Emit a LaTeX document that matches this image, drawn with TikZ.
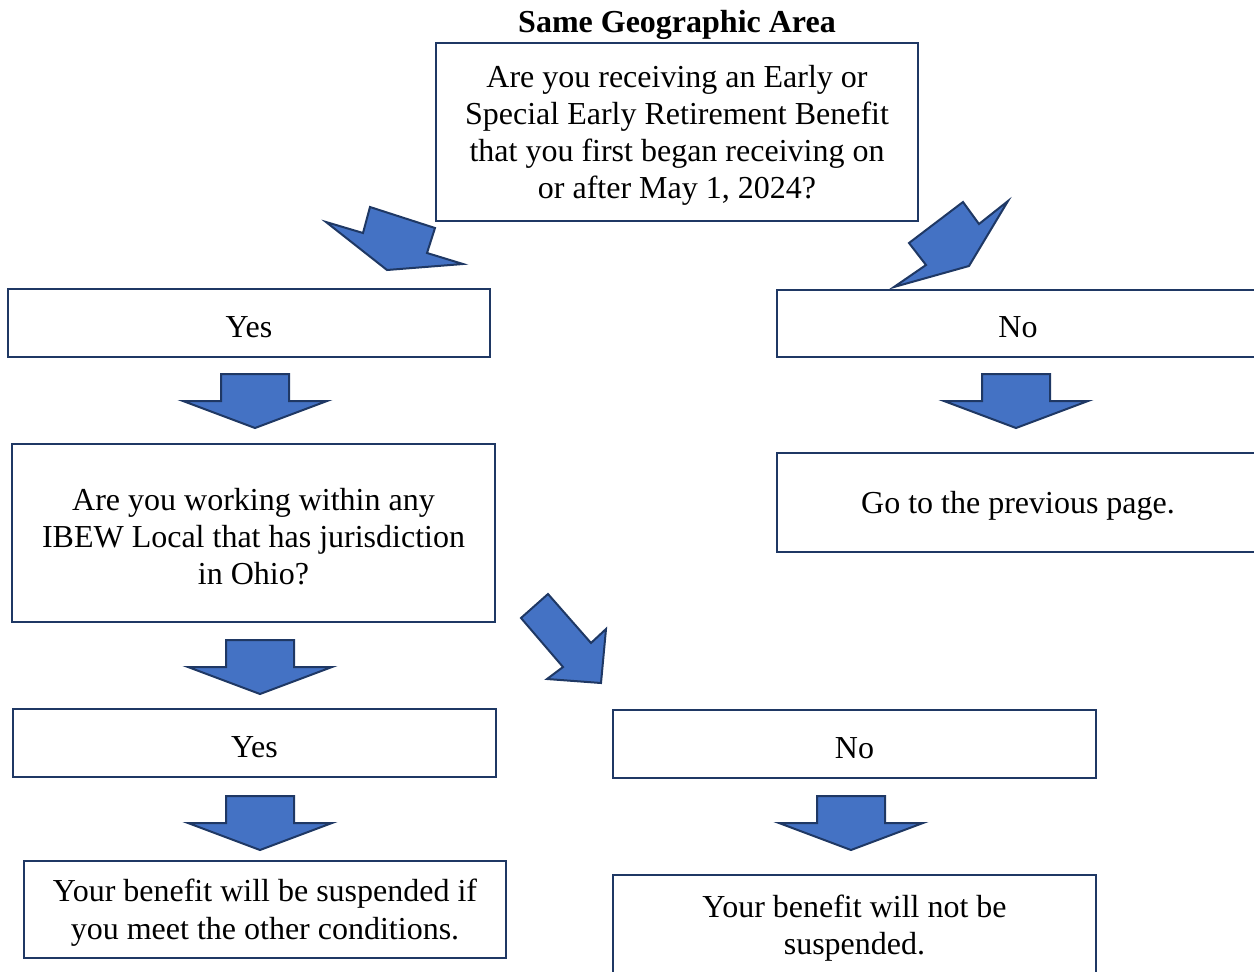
\documentclass[tikz,border=0pt]{standalone}
\usepackage{fontspec}
\setmainfont{Liberation Serif}
\definecolor{arrowblue}{HTML}{4472C4}
\definecolor{navy}{HTML}{1F3864}
\newcommand{\topstrut}{\rule{0pt}{29pt}}
\begin{document}
\begin{tikzpicture}[x=1pt,y=-1pt,
  box/.style={draw=navy, line width=2pt, fill=white, align=center,
    font=\fontsize{32}{37}\selectfont, inner sep=0pt},
  blk/.style={fill=arrowblue, draw=navy, line width=2pt, line join=miter},
  downarrow/.pic={\draw[blk] (-34,0) -- (34,0) -- (34,27) -- (72,27) -- (0,54) -- (-72,27) -- (-34,27) -- cycle;}
]
\useasboundingbox (0,0) rectangle (1254,972);

\node[font=\fontsize{32}{37}\selectfont\bfseries] (title) at (677,25) {Same Geographic Area};

\node[box, minimum width=482pt, minimum height=178pt] (q1) at (677,132)
  {\topstrut Are you receiving an Early or\\Special Early Retirement Benefit\\that you first began receiving on\\or after May 1, 2024?};

\node[box, minimum width=482pt, minimum height=68pt] (yes1) at (249,323) {\topstrut Yes};
\node[box, minimum width=482pt, minimum height=67pt] (no1) at (1018,323.5) {\topstrut No};

\node[box, minimum width=483pt, minimum height=178pt] (q2) at (253.5,533)
  {\topstrut Are you working within any\\IBEW Local that has jurisdiction\\in Ohio?};
\node[box, minimum width=482pt, minimum height=99pt] (prev) at (1018,502.5) {\topstrut Go to the previous page.};

\node[box, minimum width=483pt, minimum height=68pt] (yes2) at (254.5,743) {\topstrut Yes};
\node[box, minimum width=483pt, minimum height=68pt] (no2) at (854.5,744) {\topstrut No};

\node[box, minimum width=482pt, minimum height=97pt, font=\fontsize{32}{38}\selectfont] (res1) at (265,909.5)
  {\topstrut Your benefit will be suspended if\\you meet the other conditions.};
\node[box, minimum width=483pt, minimum height=100pt] (res2) at (854.5,925)
  {\topstrut Your benefit will not be\\suspended.};

% block arrows
\draw[blk] (370,207) -- (435,228) -- (427,253) -- (463,264) -- (387,270) -- (326,222) -- (363,233) -- cycle;
\draw[blk] (963,202) -- (979,224) -- (1008,201) -- (969,266) -- (894,287) -- (926,265) -- (909,243) -- cycle;
\draw[blk] (548,594) -- (591,643) -- (606,629) -- (601,683) -- (547,679) -- (563,667) -- (521,618) -- cycle;

\pic at (255,374) {downarrow};
\pic at (1016,374) {downarrow};
\pic at (260,640) {downarrow};
\pic at (260,796) {downarrow};
\pic at (851,796) {downarrow};
\end{tikzpicture}
\end{document}
